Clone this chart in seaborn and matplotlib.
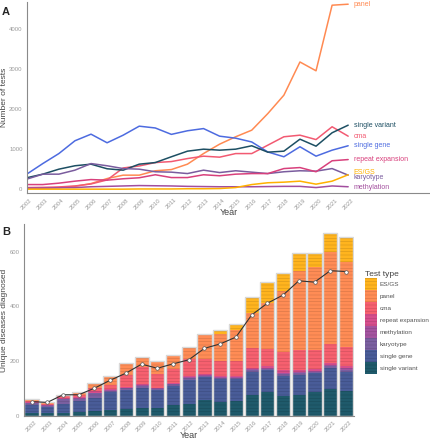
import numpy as np
import pandas as pd
import seaborn as sns
import matplotlib.pyplot as plt
from matplotlib.patches import Patch

sns.set_style("white")
plt.rcParams['font.family'] = ['Liberation Sans', 'DejaVu Sans']
plt.rcParams['hatch.linewidth'] = 0.35

years = list(range(2002, 2023))

## A: number of tests per type ##
panel_n = [20, 25, 40, 70, 140, 265, 350, 350, 460, 490, 625, 890, 1125, 1310, 1475, 1890, 2350, 3180, 2960, 4600, 4625]
cma_n = [40, 45, 55, 80, 130, 230, 530, 580, 665, 690, 765, 825, 800, 890, 890, 1100, 1310, 1350, 1240, 1560, 1325]
single_gene_n = [375, 640, 890, 1210, 1375, 1160, 1350, 1575, 1530, 1370, 1460, 1515, 1325, 1275, 1180, 930, 810, 1060, 825, 975, 1085]
single_variant_n = [285, 375, 500, 585, 625, 510, 475, 625, 665, 810, 950, 1000, 975, 1000, 1085, 925, 950, 1250, 1075, 1410, 1600]
karyotype_n = [250, 375, 375, 475, 640, 585, 515, 500, 435, 425, 390, 475, 415, 460, 425, 390, 435, 460, 450, 515, 350]
repeat_n = [115, 115, 150, 200, 240, 225, 260, 285, 360, 290, 290, 360, 335, 375, 390, 390, 515, 540, 435, 710, 740]
methylation_n = [30, 30, 35, 40, 60, 70, 80, 90, 85, 80, 70, 65, 60, 60, 60, 65, 70, 70, 40, 80, 60]
esgs_n = [0, 0, 0, 0, 0, 0, 0, 5, 5, 5, 10, 10, 15, 40, 115, 160, 175, 200, 125, 200, 360]

## B: unique diseases diagnosed per test type ##
sv_d = [10, 10, 12, 15, 18, 22, 25, 30, 30, 40, 43, 56, 49, 55, 77, 87, 71, 77, 87, 98, 90]
sg_d = [30, 22, 32, 40, 47, 65, 70, 70, 63, 70, 89, 85, 85, 79, 85, 80, 76, 73, 69, 76, 70]
kar_d = [6, 5, 16, 7, 17, 5, 5, 10, 5, 5, 6, 6, 4, 4, 6, 4, 6, 6, 6, 9, 9]
meth_d = [2, 1, 2, 2, 3, 3, 2, 2, 2, 2, 3, 3, 3, 3, 3, 3, 5, 4, 2, 4, 5]
rep_d = [3, 2, 3, 3, 4, 3, 2, 3, 3, 3, 5, 4, 5, 6, 3, 7, 8, 8, 8, 6, 7]
cma_d = [3, 4, 6, 10, 12, 16, 45, 65, 51, 51, 61, 53, 56, 55, 73, 63, 67, 73, 69, 70, 69]
panel_d = [7, 5, 6, 10, 18, 30, 43, 35, 48, 51, 44, 90, 97, 112, 131, 168, 225, 289, 303, 335, 312]
esgs_d = [0, 0, 0, 0, 0, 0, 0, 0, 0, 0, 0, 2, 15, 22, 58, 79, 64, 67, 52, 72, 94]
unique_total = [52, 49, 77, 77, 101, 130, 156, 189, 174, 190, 205, 247, 263, 288, 369, 412, 442, 494, 489, 531, 528]

types = ["ES/GS", "panel", "cma", "repeat expansion", "methylation", "karyotype", "single gene", "single variant"]
line_cols = {"panel": "#FF8A52", "cma": "#F25A72", "single gene": "#4D6BE0", "single variant": "#1D4F63",
             "repeat expansion": "#D8407C", "ES/GS": "#FFB000", "karyotype": "#7A5C9E", "methylation": "#A24E9E"}
bar_cols = {"single variant": "#1F5A6B", "single gene": "#495C98", "karyotype": "#7A5FA0", "methylation": "#A3539F",
            "repeat expansion": "#D64E8C", "cma": "#F6606F", "panel": "#FF8C55", "ES/GS": "#FFB41E"}

tests = pd.DataFrame({"Year": years * 8,
                      "n": panel_n + cma_n + single_gene_n + single_variant_n + karyotype_n + repeat_n + methylation_n + esgs_n,
                      "type": sum([[t] * 21 for t in ["panel", "cma", "single gene", "single variant", "karyotype",
                                                      "repeat expansion", "methylation", "ES/GS"]], [])})

fig = plt.figure(figsize=(4.31, 4.40), dpi=100)
axA = fig.add_axes([0.062, 0.561, 0.936, 0.434])
axB = fig.add_axes([0.055, 0.055, 0.766, 0.436])

sns.lineplot(data=tests, x="Year", y="n", hue="type", palette=line_cols, linewidth=1.1, legend=False, ax=axA)
nudge = {"ES/GS": 60, "karyotype": -70, "cma": -20, "methylation": -10}
for t in line_cols:
    last = tests[(tests["type"] == t) & (tests["Year"] == 2022)]["n"].iloc[0]
    axA.text(2022.35, last + nudge.get(t, 0), t, color=line_cols[t], fontsize=5, va="center")
axA.set_xlim(2002, 2027.1)
axA.set_ylim(-100, 4675)
axA.set_xticks(years)
axA.set_xticklabels(years, rotation=45, fontsize=4.3, color="#9a9a9a")
axA.set_yticks([0, 1000, 2000, 3000, 4000])
axA.tick_params(axis="y", labelsize=4.3, labelcolor="#9a9a9a")
axA.tick_params(length=2, color="#9a9a9a", pad=1)
axA.set_ylabel("Number of tests", fontsize=6, color="#444444")
axA.set_xlabel("Year", fontsize=6.5, color="#444444", va="center")
axA.yaxis.set_label_coords(-0.047, 0.5)
axA.xaxis.set_label_coords(0.5, -0.1)
sns.despine(ax=axA)

stack = [("single variant", sv_d), ("single gene", sg_d), ("karyotype", kar_d), ("methylation", meth_d),
         ("repeat expansion", rep_d), ("cma", cma_d), ("panel", panel_d), ("ES/GS", esgs_d)]
bottom = np.zeros(len(years))
for t, vals in stack:
    axB.bar(years, vals, bottom=bottom, width=0.9, color=bar_cols[t], edgecolor=(0, 0, 0, 0.2),
            linewidth=0, hatch="-----")
    bottom += np.array(vals)
axB.bar(years, bottom, width=0.9, fill=False, edgecolor="#d9d9d9", linewidth=1.0)
sns.lineplot(x=years, y=unique_total, color="#333333", linewidth=0.8, marker="o", markersize=2.6,
             markerfacecolor="white", markeredgecolor="#555555", markeredgewidth=0.5, ax=axB)
axB.set_xlim(2001.5, 2022.5)
axB.set_ylim(0, 702)
axB.set_xticks(years)
axB.set_xticklabels(years, rotation=45, fontsize=4.3, color="#9a9a9a")
axB.set_yticks([0, 200, 400, 600])
axB.tick_params(axis="y", labelsize=4.3, labelcolor="#9a9a9a")
axB.tick_params(length=2, color="#9a9a9a", pad=1)
axB.set_ylabel("Unique diseases diagnosed", fontsize=6, color="#444444")
axB.set_xlabel("Year", fontsize=6.5, color="#444444", va="center")
axB.yaxis.set_label_coords(-0.048, 0.5)
axB.xaxis.set_label_coords(0.5, -0.105)
sns.despine(ax=axB)

for ax in (axA, axB):
    for s in ("left", "bottom"):
        ax.spines[s].set_color("#8a8a8a")
        ax.spines[s].set_linewidth(0.8)

handles = [Patch(facecolor=bar_cols[t], edgecolor=(0, 0, 0, 0.2), linewidth=0, hatch="-----") for t in types]
leg = axB.legend(handles, types, title="Test type", loc="upper left", bbox_to_anchor=(1.035, 0.755),
                 frameon=False, fontsize=4.6, title_fontsize=6, handlelength=1.75, handleheight=2.5,
                 labelspacing=0.0, handletextpad=0.5, borderaxespad=0, borderpad=0)
leg._legend_box.align = "left"
for txt in leg.get_texts():
    txt.set_color("#555555")
leg.get_title().set_color("#444444")

fig.text(0.005, 0.985, "A", fontsize=8, fontweight="bold", va="top")
fig.text(0.005, 0.485, "B", fontsize=8, fontweight="bold", va="top")

fig.savefig("out.png", dpi=100)
